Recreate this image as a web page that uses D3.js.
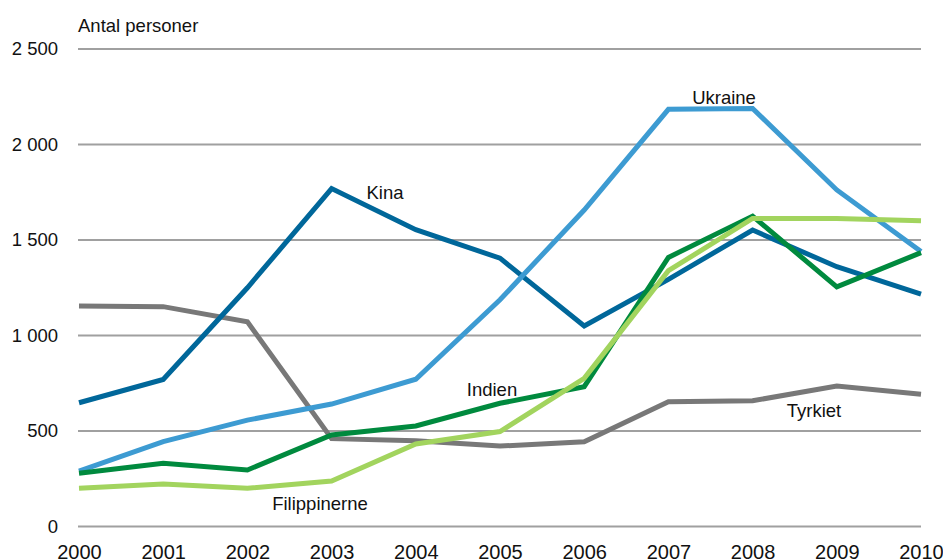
<!DOCTYPE html>
<html lang="da">
<head>
    <meta charset="UTF-8">
    <title>Antal personer</title>
    <script src="https://d3js.org/d3.v7.min.js"></script>
    <style>
        body { margin: 0; background: #fff; }
        text { font-family: "Liberation Sans", Arial, sans-serif; fill: #111; }
        .grid line { stroke: #a0a0a0; stroke-width: 2px; }
        .series { fill: none; stroke-width: 5px; stroke-linejoin: miter; }
    </style>
</head>
<body>
    <div id="chart"></div>
    <script>
        // Data
        const years = [2000, 2001, 2002, 2003, 2004, 2005, 2006, 2007, 2008, 2009, 2010];
        const yTicks = [0, 500, 1000, 1500, 2000, 2500];

        const tyrkiet      = [1154, 1151, 1072, 460, 449, 421, 444, 653, 658, 736, 692];
        const kina         = [648, 770, 1250, 1769, 1554, 1405, 1050, 1294, 1552, 1360, 1217];
        const ukraine      = [290, 444, 557, 641, 771, 1187, 1657, 2184, 2189, 1762, 1440];
        const indien       = [279, 331, 296, 479, 526, 645, 732, 1409, 1625, 1255, 1434];
        const filippinerne = [200, 222, 200, 238, 432, 497, 776, 1339, 1613, 1613, 1601];

        const series = [
            { name: "Tyrkiet", values: tyrkiet, color: "#787878", label: [814, 417] },
            { name: "Kina", values: kina, color: "#00679a", label: [385, 199] },
            { name: "Ukraine", values: ukraine, color: "#3d9bd2", label: [724, 104] },
            { name: "Indien", values: indien, color: "#008a3e", label: [492, 396] },
            { name: "Filippinerne", values: filippinerne, color: "#a2d45e", label: [320, 510] }
        ];

        const width = 943, height = 560;
        const svg = d3.select("#chart").append("svg")
            .attr("width", width)
            .attr("height", height);

        const x = d3.scaleLinear().domain([2000, 2010]).range([79, 921]);
        const y = d3.scaleLinear().domain([0, 2500]).range([526.5, 49]);

        const fmt = v => d3.format(",")(v).replace(/,/g, " ");

        // gridlines
        const grid = svg.append("g").attr("class", "grid");
        grid.selectAll("line")
            .data(yTicks)
            .join("line")
            .attr("x1", 78)
            .attr("x2", 921)
            .attr("y1", d => y(d))
            .attr("y2", d => y(d));

        // y axis labels
        const yAxis = svg.append("g")
            .attr("transform", "translate(58,0)")
            .call(d3.axisLeft(y).tickValues(yTicks).tickFormat(fmt).tickSize(0).tickPadding(0));
        yAxis.select(".domain").remove();
        yAxis.selectAll("text")
            .attr("font-size", "18.5px")
            .attr("font-family", null)
            .attr("fill", "#111");

        // x axis labels
        const xAxis = svg.append("g")
            .attr("transform", "translate(0,545)")
            .call(d3.axisBottom(x).tickValues(years).tickFormat(d3.format("d")).tickSize(0).tickPadding(0));
        xAxis.select(".domain").remove();
        xAxis.selectAll("text")
            .attr("font-size", "20px")
            .attr("font-family", null)
            .attr("fill", "#111");

        // axis title
        svg.append("text")
            .attr("x", 78)
            .attr("y", 31.5)
            .attr("font-size", "18.5px")
            .text("Antal personer");

        // lines
        const line = d3.line()
            .x((d, i) => x(years[i]))
            .y(d => y(d));

        svg.selectAll(".series")
            .data(series)
            .join("path")
            .attr("class", "series")
            .attr("stroke", d => d.color)
            .attr("d", d => line(d.values));

        // series labels
        svg.selectAll(".lbl")
            .data(series)
            .join("text")
            .attr("class", "lbl")
            .attr("x", d => d.label[0])
            .attr("y", d => d.label[1])
            .attr("text-anchor", "middle")
            .attr("font-size", "18.5px")
            .text(d => d.name);
    </script>
</body>
</html>
